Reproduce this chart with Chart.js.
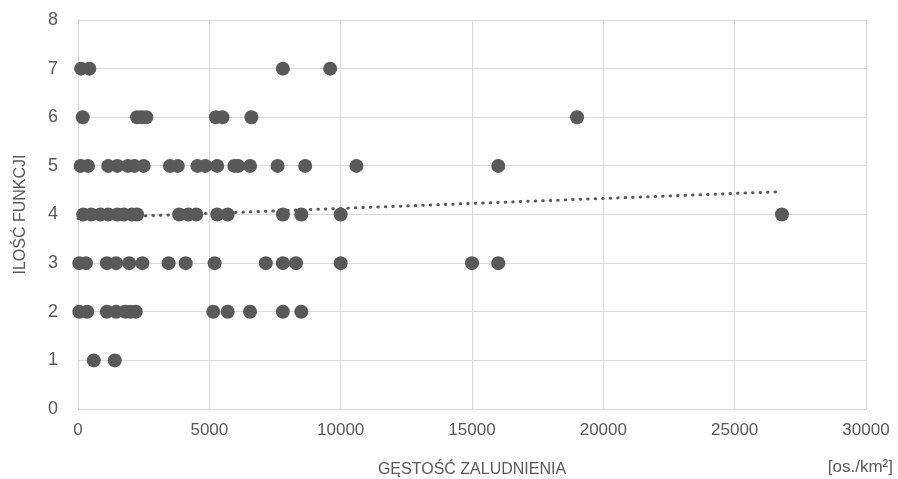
<!DOCTYPE html>
<html>
<head>
<meta charset="utf-8">
<script src="https://cdn.jsdelivr.net/npm/chart.js@4"></script>
<style>
  html, body { margin: 0; padding: 0; background: #fff; overflow: hidden; }
  #wrap { width: 898px; height: 479px; }
</style>
</head>
<body>
<div id="wrap"><canvas id="wykres"></canvas></div>
<script>
// gęstość zaludnienia [os./km2] dla każdego poziomu ilości funkcji
const gestosc1 = [600, 1400];
const gestosc2 = [50, 350, 1100, 1450, 1800, 2000, 2200, 5150, 5700, 6550, 7800, 8500];
const gestosc3 = [50, 300, 1100, 1450, 1950, 2450, 3450, 4100, 5200, 7150, 7800, 8300, 10000, 15000, 16000];
const gestosc4 = [200, 500, 850, 1150, 1500, 1750, 2050, 2250, 3850, 4200, 4500, 5300, 5700, 7800, 8500, 10000, 26800];
const gestosc5 = [100, 380, 1150, 1500, 1900, 2150, 2500, 3500, 3800, 4550, 4850, 5300, 5950, 6100, 6550, 7600, 8650, 10600, 16000];
const gestosc6 = [180, 2250, 2420, 2600, 5250, 5500, 6600, 19000];
const gestosc7 = [120, 430, 7800, 9600];

// linia trendu (początek i koniec)
const trendX = [0, 26800];
const trendY = [3.92, 4.47];

const xTicks = [0, 5000, 10000, 15000, 20000, 25000, 30000];
const yTicks = [0, 1, 2, 3, 4, 5, 6, 7, 8];

const poziomy = [gestosc1, gestosc2, gestosc3, gestosc4, gestosc5, gestosc6, gestosc7];
const punkty = [];
poziomy.forEach((lista, i) => {
  lista.forEach(x => punkty.push({ x: x, y: i + 1 }));
});

const szary = '#595959';
const siatka = '#d9d9d9';
const czcionka = "'Liberation Sans', Arial, sans-serif";

const jednostka = {
  id: 'jednostka',
  afterDraw(chart) {
    const ctx = chart.ctx;
    const a = chart.chartArea;
    ctx.save();
    ctx.fillStyle = szary;
    ctx.font = '17px ' + czcionka;
    ctx.textAlign = 'right';
    ctx.textBaseline = 'middle';
    ctx.fillText('[os./km²]', a.right + 27, 467);
    ctx.restore();
  }
};

const ctx = document.getElementById('wykres').getContext('2d');
new Chart(ctx, {
  type: 'scatter',
  data: {
    datasets: [
      {
        type: 'line',
        data: trendX.map((x, i) => ({ x, y: trendY[i] })),
        borderColor: szary,
        borderWidth: 3,
        borderDash: [0.5, 7],
        borderCapStyle: 'round',
        pointRadius: 0,
        fill: false,
        clip: false,
        order: 0
      },
      {
        data: punkty,
        backgroundColor: szary,
        borderColor: szary,
        borderWidth: 0,
        pointRadius: 7,
        pointHoverRadius: 7,
        clip: false,
        order: 1
      }
    ]
  },
  options: {
    responsive: true,
    maintainAspectRatio: false,
    animation: false,
    layout: { padding: { left: 0, right: 32, top: 20, bottom: 0 } },
    plugins: {
      legend: { display: false },
      tooltip: { enabled: false }
    },
    scales: {
      x: {
        type: 'linear',
        min: 0,
        max: 30000,
        afterBuildTicks: s => { s.ticks = xTicks.map(v => ({ value: v })); },
        afterFit: s => { s.height = 70; },
        grid: { color: siatka, drawTicks: true, tickLength: 11, tickColor: 'rgba(0,0,0,0)' },
        border: { color: siatka },
        ticks: {
          padding: 0,
          color: szary,
          font: { family: czcionka, size: 17 },
          callback: v => v
        },
        title: {
          display: true,
          text: 'GĘSTOŚĆ ZALUDNIENIA',
          color: szary,
          font: { family: czcionka, size: 16 },
          padding: { top: 2, bottom: 0 }
        }
      },
      y: {
        min: 0,
        max: 8,
        afterBuildTicks: s => { s.ticks = yTicks.map(v => ({ value: v })); },
        afterFit: s => { s.width = 78; },
        grid: { color: siatka, drawTicks: true, tickLength: 20, tickColor: 'rgba(0,0,0,0)' },
        border: { color: siatka },
        ticks: {
          padding: 0,
          color: szary,
          font: { family: czcionka, size: 18 }
        },
        title: {
          display: true,
          text: 'ILOŚĆ FUNKCJI',
          color: szary,
          font: { family: czcionka, size: 16 },
          padding: { top: 11, bottom: 0 }
        }
      }
    }
  },
  plugins: [jednostka]
});
</script>
</body>
</html>
